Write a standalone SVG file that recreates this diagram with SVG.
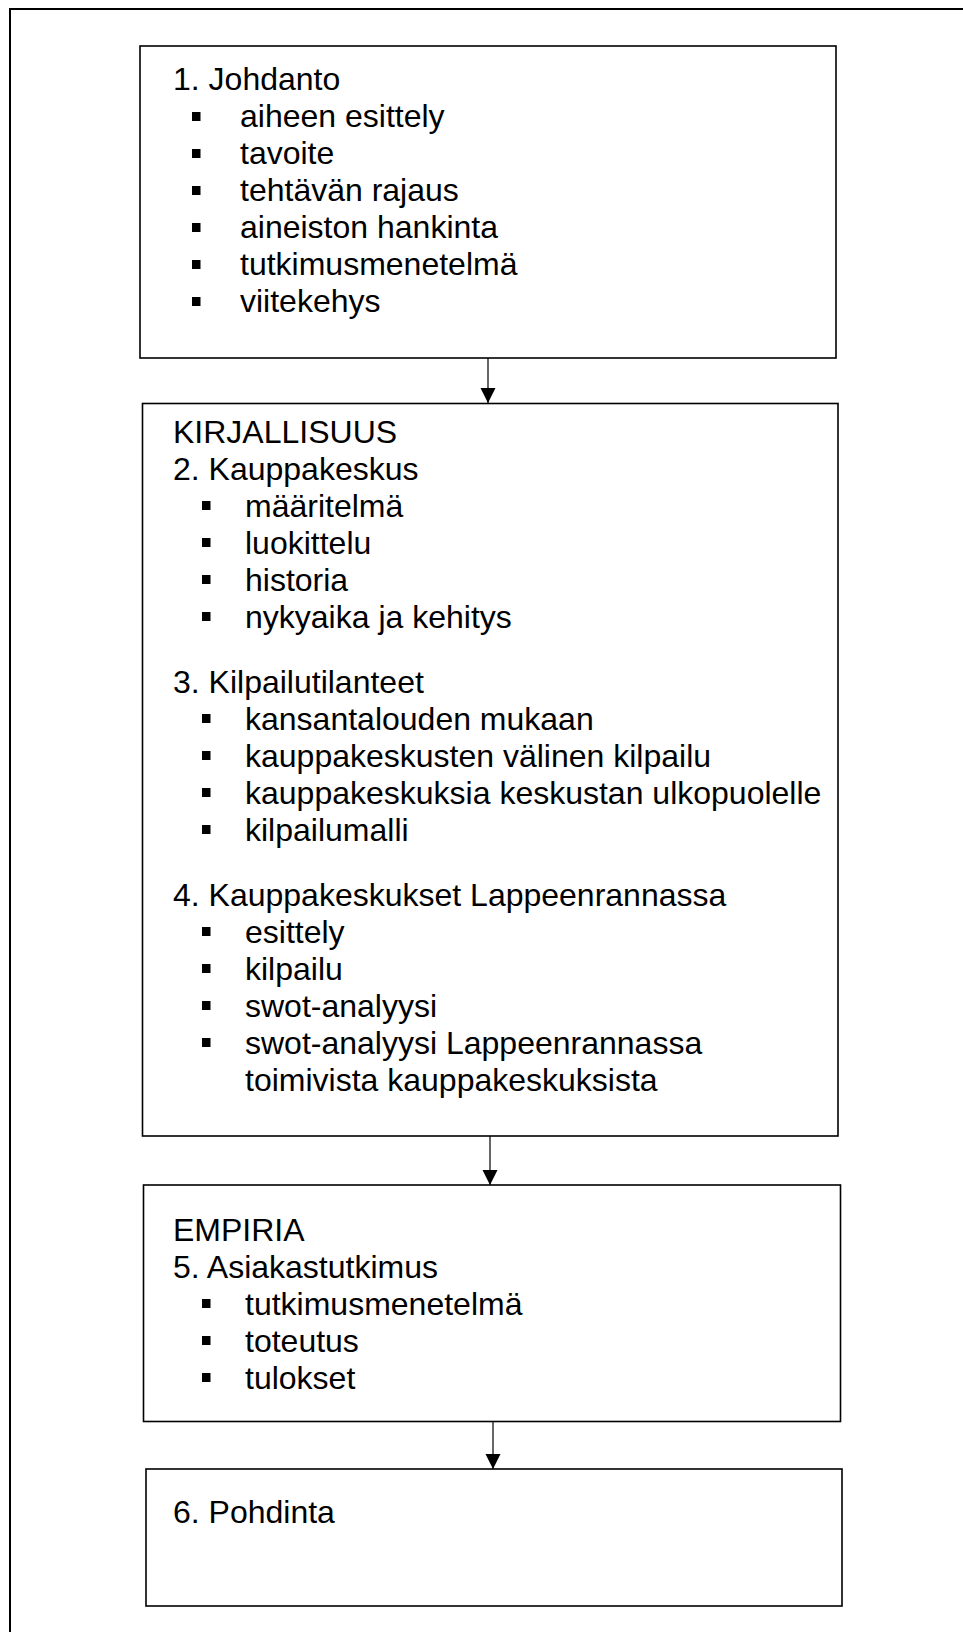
<svg xmlns="http://www.w3.org/2000/svg" width="963" height="1632" viewBox="0 0 963 1632">
<style>
.box{fill:#fff;stroke:#000;stroke-width:1.6}
.frame{fill:none;stroke:#000;stroke-width:2}
.t{font-family:"Liberation Sans",Arial,sans-serif;font-size:32px;fill:#000}
.b{fill:#000}
.conn{stroke:#000;stroke-width:1.2;fill:none}
</style>
<defs>
<marker id="arr" markerUnits="userSpaceOnUse" markerWidth="16" markerHeight="16" viewBox="0 0 16 16" refX="15" refY="8" orient="auto">
<path d="M0,0.5 L15,8 L0,15.5 Z" fill="#000"/>
</marker>
</defs>
<rect width="963" height="1632" fill="#fff"/>
<rect class="frame" x="10" y="9" width="1000" height="1700"/>
<g id="n1">
<rect class="box" x="140" y="46" width="696" height="312"/>
<text class="t" x="173" y="90">1. Johdanto</text>
<rect class="b" x="192" y="112" width="8.5" height="9"/><text class="t" x="240" y="127">aiheen esittely</text>
<rect class="b" x="192" y="149" width="8.5" height="9"/><text class="t" x="240" y="164">tavoite</text>
<rect class="b" x="192" y="186" width="8.5" height="9"/><text class="t" x="240" y="201">tehtävän rajaus</text>
<rect class="b" x="192" y="223" width="8.5" height="9"/><text class="t" x="240" y="238">aineiston hankinta</text>
<rect class="b" x="192" y="260" width="8.5" height="9"/><text class="t" x="240" y="275">tutkimusmenetelmä</text>
<rect class="b" x="192" y="297" width="8.5" height="9"/><text class="t" x="240" y="312">viitekehys</text>
</g>
<g id="n2">
<rect class="box" x="142.5" y="403.5" width="695.5" height="732.5"/>
<text class="t" x="173" y="443">KIRJALLISUUS</text>
<text class="t" x="173" y="480">2. Kauppakeskus</text>
<rect class="b" x="202" y="501" width="8.5" height="9"/><text class="t" x="245" y="517">määritelmä</text>
<rect class="b" x="202" y="538" width="8.5" height="9"/><text class="t" x="245" y="554">luokittelu</text>
<rect class="b" x="202" y="575" width="8.5" height="9"/><text class="t" x="245" y="591">historia</text>
<rect class="b" x="202" y="612" width="8.5" height="9"/><text class="t" x="245" y="628">nykyaika ja kehitys</text>
<text class="t" x="173" y="693">3. Kilpailutilanteet</text>
<rect class="b" x="202" y="714" width="8.5" height="9"/><text class="t" x="245" y="730">kansantalouden mukaan</text>
<rect class="b" x="202" y="751" width="8.5" height="9"/><text class="t" x="245" y="767">kauppakeskusten välinen kilpailu</text>
<rect class="b" x="202" y="788" width="8.5" height="9"/><text class="t" x="245" y="804">kauppakeskuksia keskustan ulkopuolelle</text>
<rect class="b" x="202" y="825" width="8.5" height="9"/><text class="t" x="245" y="841">kilpailumalli</text>
<text class="t" x="173" y="906">4. Kauppakeskukset Lappeenrannassa</text>
<rect class="b" x="202" y="927" width="8.5" height="9"/><text class="t" x="245" y="943">esittely</text>
<rect class="b" x="202" y="964" width="8.5" height="9"/><text class="t" x="245" y="980">kilpailu</text>
<rect class="b" x="202" y="1001" width="8.5" height="9"/><text class="t" x="245" y="1017">swot-analyysi</text>
<rect class="b" x="202" y="1038" width="8.5" height="9"/><text class="t" x="245" y="1054">swot-analyysi Lappeenrannassa</text>
<text class="t" x="245" y="1091">toimivista kauppakeskuksista</text>
</g>
<g id="n3">
<rect class="box" x="143.5" y="1185" width="697" height="236.5"/>
<text class="t" x="173" y="1241">EMPIRIA</text>
<text class="t" x="173" y="1278">5. Asiakastutkimus</text>
<rect class="b" x="202" y="1299" width="8.5" height="9"/><text class="t" x="245" y="1315">tutkimusmenetelmä</text>
<rect class="b" x="202" y="1336" width="8.5" height="9"/><text class="t" x="245" y="1352">toteutus</text>
<rect class="b" x="202" y="1373" width="8.5" height="9"/><text class="t" x="245" y="1389">tulokset</text>
</g>
<g id="n4">
<rect class="box" x="146" y="1469" width="696" height="137"/>
<text class="t" x="173" y="1523">6. Pohdinta</text>
</g>
<g id="connectors">
<line class="conn" x1="488" y1="358" x2="488" y2="403" marker-end="url(#arr)"/>
<line class="conn" x1="490" y1="1136" x2="490" y2="1185" marker-end="url(#arr)"/>
<line class="conn" x1="493" y1="1421.5" x2="493" y2="1469" marker-end="url(#arr)"/>
</g>
</svg>
